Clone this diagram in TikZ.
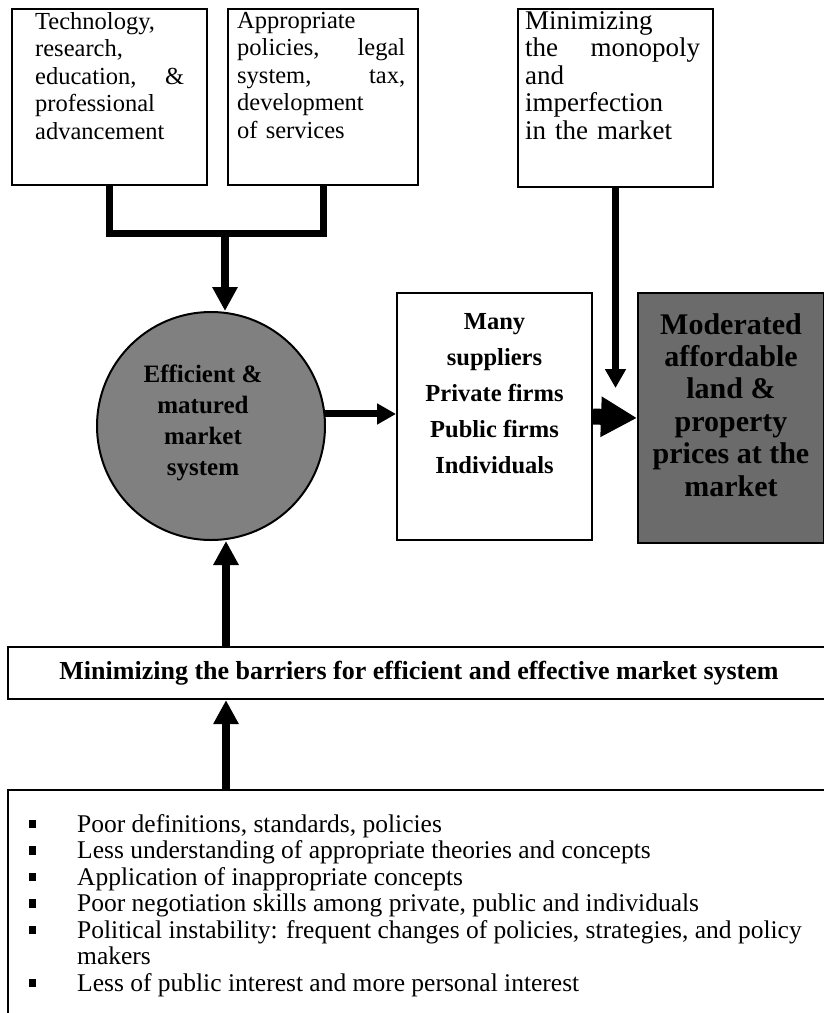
\documentclass[tikz,border=0pt]{standalone}
\usepackage{fontspec}
\setmainfont{Liberation Serif}
\usetikzlibrary{arrows.meta,calc}
\newcommand{\sqbul}{\makebox[48pt][l]{\raisebox{4pt}{\rule{7pt}{8.5pt}}}}
\tikzset{
  boxo/.style={draw=black, line width=2pt, rectangle, inner sep=0pt},
  txt/.style={anchor=north west, inner sep=0pt, align=left},
  conn/.style={line width=7pt},
  arrA/.style={line width=8pt, -{Triangle[length=24pt,width=24pt]}},
  arrS/.style={line width=7pt, -{Triangle[length=19pt,width=20pt]}},
  arrB/.style={line width=16pt, -{Triangle[length=36pt,width=38pt]}},
}
\begin{document}
\begin{tikzpicture}[x=1pt,y=-1pt]
\useasboundingbox (0,0) rectangle (824,1013);

% top boxes
\node[boxo, minimum width=195pt, minimum height=176pt] (b1) at (109.5,97) {};
\node[boxo, minimum width=190pt, minimum height=176pt] (b2) at (323,97) {};
\node[boxo, minimum width=195pt, minimum height=178pt] (b3) at (615.5,98) {};

\node[txt, text width=149pt, font=\fontsize{24.5}{27.5}\selectfont] (b1t) at (35,12)
 {Technology,\\ research,\\ education,\hfill\&\\ professional\\ advancement};
\node[txt, text width=168pt, font=\fontsize{24.5}{27.5}\selectfont] (b2t) at (237,12)
 {Appropriate\\ policies,\hfill legal\\ system,\hfill tax,\\ development\\ of services};
\node[txt, text width=175pt, font=\fontsize{27}{27.5}\selectfont] (b3t) at (525,11)
 {Minimizing\\ the\hfill monopoly\\ and\\ imperfection\\ in the market};

% circle
\node[circle, draw=black, line width=2pt, fill=black!50, minimum size=228pt, inner sep=0pt] (circ) at (211,426) {};
\node[anchor=north, inner sep=0pt, align=center, font=\bfseries\fontsize{25}{31}\selectfont] (circt) at (203,365)
 {Efficient \&\\ matured\\ market\\ system};

% middle box
\node[boxo, minimum width=195pt, minimum height=247pt] (mid) at (494.5,416.5) {};
\node[anchor=north, inner sep=0pt, align=center, font=\bfseries\fontsize{24.5}{36}\selectfont] (midt) at (494.5,313)
 {Many\\ suppliers\\ Private firms\\ Public firms\\ Individuals};

% dark box
\node[boxo, fill=black!58, minimum width=186pt, minimum height=250pt] (dark) at (731,418) {};
\node[anchor=north, inner sep=0pt, align=center, font=\bfseries\fontsize{30}{32.4}\selectfont] (darkt) at (731,313)
 {Moderated\\ affordable\\ land \&\\ property\\ prices at the\\ market};

% barrier box
\node[boxo, line width=2.2pt, minimum width=822pt, minimum height=52pt, font=\bfseries\fontsize{26}{30}\selectfont] (bar) at (419,673)
 {Minimizing the barriers for efficient and effective market system};

% list box
\node[boxo, line width=2.2pt, minimum width=827pt, minimum height=250pt] (lst) at (421.5,915) {};
\node[txt, font=\fontsize{25.5}{26.5}\selectfont] (lstt) at (29,814)
 {\sqbul Poor definitions, standards, policies\\
  \sqbul Less understanding of appropriate theories and concepts\\
  \sqbul Application of inappropriate concepts\\
  \sqbul Poor negotiation skills among private, public and individuals\\
  \sqbul Political instability: frequent changes of policies, strategies, and policy\\
  \hspace*{48pt}makers\\
  \sqbul Less of public interest and more personal interest};

% connectors
\coordinate (barY) at (0,233);
\coordinate (stem) at (225,233);
\coordinate (colx) at (226,0);
\coordinate (b3tip) at (615.5,388);
\draw[conn] (b1.south) -- (b1.south |- barY) -- (b2.south |- barY) -- (b2.south);
\draw[arrA] (stem) -- (stem |- circ.north);
\draw[arrS] (b3.south) -- (b3tip);
\draw[arrS] (circ.6) -- (circ.6 -| mid.west);
\draw[arrB] (mid.east) -- (dark.west);
\draw[arrA] (colx |- bar.north) -- (colx |- circ.south);
\draw[arrA] (colx |- lst.north) -- (colx |- bar.south);
\end{tikzpicture}
\end{document}
